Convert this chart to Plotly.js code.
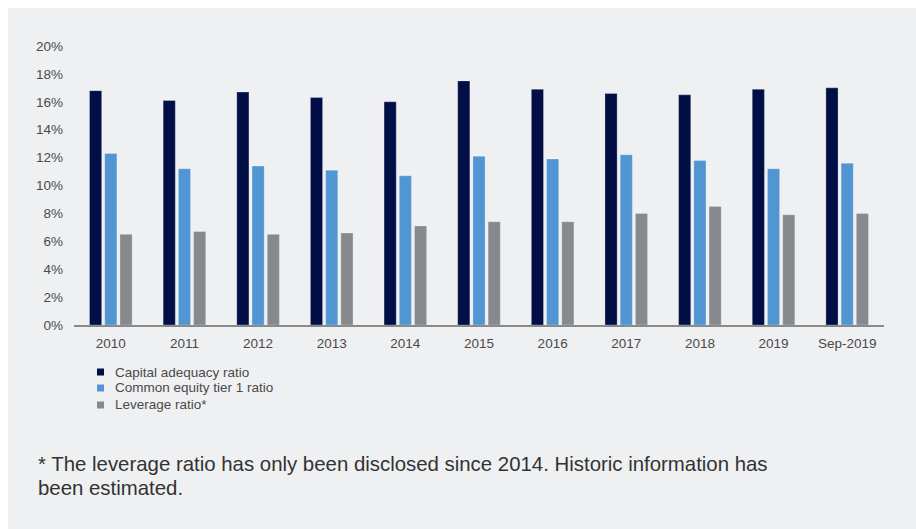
<!DOCTYPE html>
<html>
<head>
<meta charset="utf-8">
<script src="https://cdn.plot.ly/plotly-3.0.1.min.js"></script>
<style>
  html, body { margin: 0; padding: 0; background: #ffffff; }
  #chart { position: absolute; left: 8px; top: 8px; width: 908px; height: 521px; }
</style>
</head>
<body>
<div id="chart"></div>
<script>
const categories = ["2010", "2011", "2012", "2013", "2014", "2015", "2016", "2017", "2018", "2019", "Sep-2019"];
const capitalAdequacy = [16.8, 16.1, 16.7, 16.3, 16.0, 17.5, 16.9, 16.6, 16.5, 16.9, 17.0];
const commonEquityTier1 = [12.3, 11.2, 11.4, 11.1, 10.7, 12.1, 11.9, 12.2, 11.8, 11.2, 11.6];
const leverageRatio = [6.5, 6.7, 6.5, 6.6, 7.1, 7.4, 7.4, 8.0, 8.5, 7.9, 8.0];
const yTickVals = [0, 2, 4, 6, 8, 10, 12, 14, 16, 18, 20];
const yTickText = ["0%", "2%", "4%", "6%", "8%", "10%", "12%", "14%", "16%", "18%", "20%"];
const seriesNames = ["Capital adequacy ratio", "Common equity tier 1 ratio", "Leverage ratio*"];
const footnoteLines = [
  "* The leverage ratio has only been disclosed since 2014. Historic information has",
  "been estimated."
];

const colors = ["#010f46", "#5196d2", "#86898d"];
const seriesValues = [capitalAdequacy, commonEquityTier1, leverageRatio];

const traces = seriesValues.map((vals, i) => ({
  type: "bar",
  name: seriesNames[i],
  x: categories,
  y: vals,
  showlegend: false,
  marker: { color: colors[i], line: { width: 0.8, color: "rgba(255,255,255,0.35)" } },
  hoverinfo: "x+y+name"
}));

const font = "Liberation Sans, Arial, Helvetica, sans-serif";
const textColor = "#4a4a4a";

// Legend drawn as paper-anchored squares + labels (tighter spacing than Plotly's legend)
const legendY = [-0.1685, -0.2258, -0.2867];
const legendSquareX = 0.0327;
const legendTextX = 0.048;

const shapes = seriesNames.map((n, i) => ({
  type: "rect",
  xref: "paper", yref: "paper",
  xsizemode: "pixel", ysizemode: "pixel",
  xanchor: legendSquareX, yanchor: legendY[i],
  x0: -3.5, x1: 3.5, y0: -3.5, y1: 3.5,
  fillcolor: colors[i],
  line: { width: 0 }
}));

const annotations = seriesNames.map((n, i) => ({
  xref: "paper", yref: "paper",
  x: legendTextX, y: legendY[i],
  xanchor: "left", yanchor: "middle",
  showarrow: false,
  text: n,
  font: { family: font, size: 13.5, color: textColor }
}));

const footY = [-0.498, -0.584];
footnoteLines.forEach((t, i) => {
  annotations.push({
    xref: "paper", yref: "paper",
    x: -0.047, y: footY[i],
    xanchor: "left", yanchor: "middle",
    align: "left",
    showarrow: false,
    text: t,
    font: { family: font, size: 20.4, color: "#333333" }
  });
});

const layout = {
  width: 908,
  height: 521,
  paper_bgcolor: "#eff0f2",
  plot_bgcolor: "#eff0f2",
  margin: { l: 66, r: 32, t: 38, b: 204, pad: 0 },
  barmode: "group",
  bargap: 0.38,
  bargroupgap: 0.2,
  font: { family: font, size: 13.5, color: textColor },
  showlegend: false,
  xaxis: {
    type: "category",
    showgrid: false,
    zeroline: false,
    showline: true,
    linecolor: "#8a8a8a",
    linewidth: 1.5,
    ticks: "",
    ticklabelstandoff: 5,
    tickfont: { family: font, size: 13.5, color: textColor },
    fixedrange: true
  },
  yaxis: {
    range: [0, 20],
    tickvals: yTickVals,
    ticktext: yTickText,
    showgrid: false,
    zeroline: false,
    showline: false,
    ticks: "",
    ticklabelstandoff: 10,
    tickfont: { family: font, size: 13.5, color: textColor },
    fixedrange: true
  },
  shapes: shapes,
  annotations: annotations
};

Plotly.newPlot("chart", traces, layout, { displayModeBar: false });
</script>
</body>
</html>
